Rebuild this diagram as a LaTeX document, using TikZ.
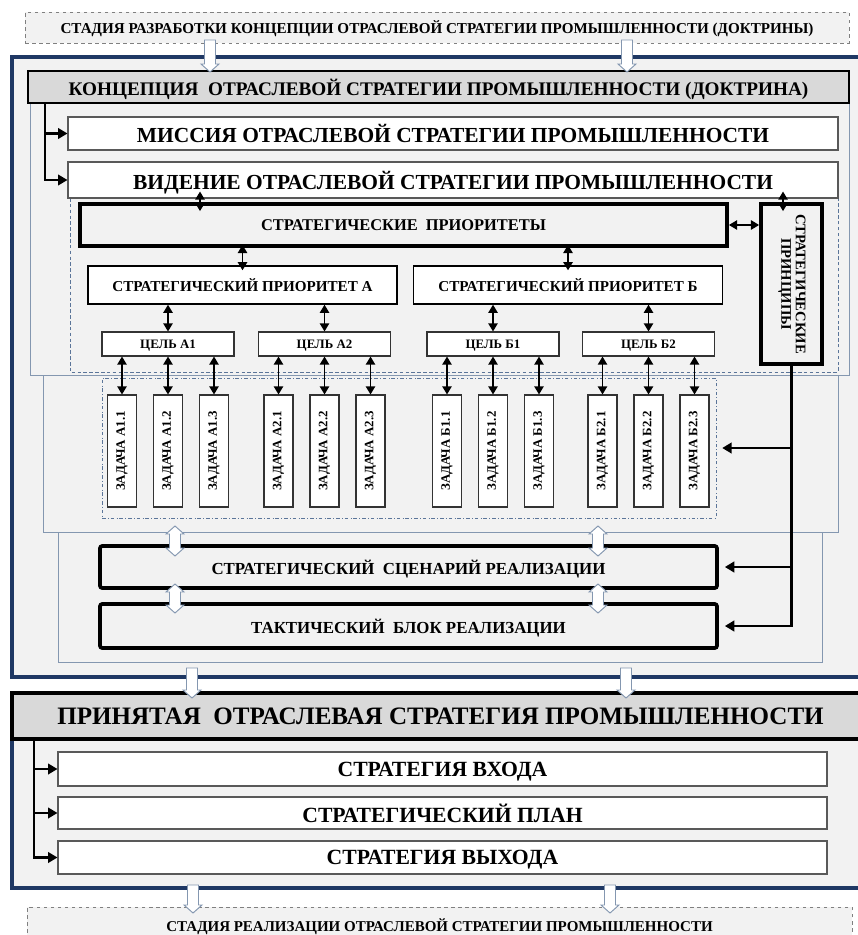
\documentclass[tikz,border=0pt]{standalone}
\usepackage{fontspec}
\setmainfont{Liberation Serif}
\usetikzlibrary{arrows.meta}

\definecolor{navy}{HTML}{1F3864}
\definecolor{slate}{HTML}{8497B0}
\definecolor{dashblue}{HTML}{5B7599}
\definecolor{bgray}{HTML}{F2F2F2}
\definecolor{hgray}{HTML}{D9D9D9}
\definecolor{bline}{HTML}{595959}

\newcommand\pxl{0.3mm}
\newcommand\boldsize[1]{\bfseries\fontsize{#1}{#1}\selectfont}
% hollow block arrows: x, y of top, y of bottom
\newcommand\hollowdown[3]{\draw[hollow] (#1-5.5,#2) -- (#1+5.5,#2) -- (#1+5.5,#3-8) -- (#1+9,#3-8) -- (#1,#3) -- (#1-9,#3-8) -- (#1-5.5,#3-8) -- cycle;}
\newcommand\hollowboth[3]{\draw[hollow] (#1,#2) -- (#1+9,#2+8) -- (#1+5.5,#2+8) -- (#1+5.5,#3-8) -- (#1+9,#3-8) -- (#1,#3) -- (#1-9,#3-8) -- (#1-5.5,#3-8) -- (#1-5.5,#2+8) -- (#1-9,#2+8) -- cycle;}

\begin{document}
\begin{tikzpicture}[x=0.3mm, y=-0.3mm,
outer/.style={draw=navy, line width=3pt, fill=bgray},
band/.style={draw=slate, line width=0.8pt, fill=bgray},
flat/.style={inner sep=0pt, text depth=0pt},
stage/.style={flat, draw=gray, dashed, fill=bgray, minimum width=824*\pxl, minimum height=31*\pxl, font=\boldsize{12.9}},
head/.style={flat, draw=black, fill=hgray},
box/.style={flat, draw=bline, fill=white, line width=0.9pt},
heavy/.style={flat, draw=black, fill=bgray, line width=3.2pt},
prio/.style={box, draw=black, line width=1.2pt, minimum width=309*\pxl, minimum height=38*\pxl, font=\boldsize{12.9}},
goal/.style={box, draw=black!80, minimum width=132*\pxl, minimum height=24*\pxl, font=\boldsize{11}},
task/.style={box, draw=black!80, minimum width=29*\pxl, minimum height=112*\pxl, font=\boldsize{11}},
sub/.style={box, minimum width=769*\pxl, font=\boldsize{18.5}},
dbl/.style={line width=1.3pt, {Triangle[width=8pt,length=7pt]}-{Triangle[width=8pt,length=7pt]}},
feed/.style={line width=1.8pt, -{Triangle[width=9pt,length=8pt]}},
hollow/.style={draw=slate, fill=white, line width=0.8pt}]

\clip (0,0) rectangle (858,935);
\fill[white] (0,0) rectangle (858,935);

% concept block
\draw[outer] (12,57) rectangle (875,677);
\draw[band] (30,71) rectangle (849,375);
\draw[band] (43,375) rectangle (838,532);
\draw[band] (58,532) rectangle (822,662);
\draw[draw=dashblue, densely dashed] (70,198) rectangle (838,372);

\node[stage] (dev) at (437,27.5) {СТАДИЯ РАЗРАБОТКИ КОНЦЕПЦИИ ОТРАСЛЕВОЙ СТРАТЕГИИ ПРОМЫШЛЕННОСТИ (ДОКТРИНЫ)};
\node[head, line width=1.2pt, minimum width=821*\pxl, minimum height=32*\pxl, font=\boldsize{16.4}] (concept) at (438.5,87) {КОНЦЕПЦИЯ~ ОТРАСЛЕВОЙ СТРАТЕГИИ ПРОМЫШЛЕННОСТИ (ДОКТРИНА)};
\node[sub, minimum width=770*\pxl, minimum height=33*\pxl, font=\boldsize{18.3}] (mission) at (453,133.5) {МИССИЯ ОТРАСЛЕВОЙ СТРАТЕГИИ ПРОМЫШЛЕННОСТИ};
\node[sub, minimum width=770*\pxl, minimum height=36*\pxl, font=\boldsize{18.3}] (vision) at (453,180) {ВИДЕНИЕ ОТРАСЛЕВОЙ СТРАТЕГИИ ПРОМЫШЛЕННОСТИ};
\draw[feed] (concept.south -| 45,0) |- (vision.west);
\draw[feed] (mission.west -| 45,0) -- (mission.west);

\node[heavy, minimum width=647*\pxl, minimum height=42*\pxl, font=\boldsize{14}] (prios) at (403.5,225) {СТРАТЕГИЧЕСКИЕ~ ПРИОРИТЕТЫ};
\node[draw=black, fill=bgray, line width=3.2pt, inner sep=0pt, minimum width=61*\pxl, minimum height=160*\pxl, font=\boldsize{12.5}] (prn) at (791.5,284) {\rotatebox{-90}{\begin{tabular}{@{}c@{}}СТРАТЕГИЧЕСКИЕ\\ПРИНЦИПЫ\end{tabular}}};
\node[prio] (pa) at (242.5,285) {СТРАТЕГИЧЕСКИЙ ПРИОРИТЕТ А};
\node[prio] (pb) at (568,285) {СТРАТЕГИЧЕСКИЙ ПРИОРИТЕТ Б};

\draw[dbl, shorten <=-2.1mm, shorten >=-2.7mm] (vision.south -| 200,0) -- (prios.north -| 200,0);
\draw[dbl, shorten <=-2.1mm, shorten >=-2.7mm] (vision.south -| 783,0) -- (prn.north -| 783,0);
\draw[dbl] (prios.east) -- (prn.west |- prios.east);
\draw[dbl, shorten <=-0.9mm, shorten >=-1.5mm] (prios.south -| pa.north) -- (pa.north);
\draw[dbl, shorten <=-0.9mm, shorten >=-1.5mm] (prios.south -| pb.north) -- (pb.north);

% goals and tasks
\node[draw=dashblue, dash dot, inner sep=0pt, minimum width=614*\pxl, minimum height=140*\pxl] (tfr) at (409,448) {};
\foreach \g/\n/\p/\x in {А1/a1/pa/168, А2/a2/pa/324.5, Б1/b1/pb/493, Б2/b2/pb/648.5} {
  \node[goal] (g\n) at (\x,344) {ЦЕЛЬ \g};
  \draw[dbl] (\p.south -| g\n.north) -- (g\n.north);
  \foreach \k/\dx in {1/-46, 2/0, 3/46} {
    \node[task] (t\n\k) at (\x+\dx,451) {\rotatebox{90}{ЗАДАЧА \g.\k}};
    \draw[dbl] (g\n.south -| t\n\k.north) -- (t\n\k.north);
  }
}

\node[heavy, rounded corners=2pt, minimum width=617*\pxl, minimum height=42*\pxl, font=\boldsize{14.4}] (scen) at (408.5,567) {СТРАТЕГИЧЕСКИЙ~ СЦЕНАРИЙ РЕАЛИЗАЦИИ};
\node[heavy, rounded corners=2pt, minimum width=617*\pxl, minimum height=44*\pxl, font=\boldsize{14.4}] (tact) at (408.5,626) {ТАКТИЧЕСКИЙ~ БЛОК РЕАЛИЗАЦИИ};

\draw[feed, line width=2.2pt, shorten >=1.8mm] (prn.south) |- (tact.east);
\draw[feed, line width=2.2pt, shorten >=1.8mm] (prn.south |- scen.east) -- (scen.east);
\draw[feed, line width=2.2pt, shorten >=1.8mm] (prn.south |- tfr.east) -- (tfr.east);

% accepted strategy
\draw[outer] (12,693) rectangle (875,888);
\node[head, line width=3pt, minimum width=857*\pxl, minimum height=46*\pxl, font=\boldsize{21.4}] (acc) at (440.5,716) {ПРИНЯТАЯ~ ОТРАСЛЕВАЯ СТРАТЕГИЯ ПРОМЫШЛЕННОСТИ};
\node[sub, minimum height=34*\pxl] (entry) at (442.5,769) {СТРАТЕГИЯ ВХОДА};
\node[sub, minimum height=32*\pxl] (plan) at (442.5,813) {СТРАТЕГИЧЕСКИЙ ПЛАН};
\node[sub, minimum height=33*\pxl] (exit) at (442.5,857.5) {СТРАТЕГИЯ ВЫХОДА};
\draw[feed] (acc.south -| 34,0) |- (exit.west);
\draw[feed] (entry.west -| 34,0) -- (entry.west);
\draw[feed] (plan.west -| 34,0) -- (plan.west);

\node[stage, minimum width=825*\pxl, minimum height=36*\pxl, font=\boldsize{12.8}] (impl) at (439.5,925) {СТАДИЯ РЕАЛИЗАЦИИ ОТРАСЛЕВОЙ СТРАТЕГИИ ПРОМЫШЛЕННОСТИ};

\hollowdown{210}{40}{72}
\hollowdown{627}{40}{72}
\hollowboth{175}{526}{556}
\hollowboth{598}{526}{556}
\hollowboth{175}{584}{613}
\hollowboth{598}{584}{613}
\hollowdown{192}{668}{698}
\hollowdown{626}{668}{698}
\hollowdown{193}{885}{913}
\hollowdown{610}{885}{913}
\end{tikzpicture}
\end{document}
